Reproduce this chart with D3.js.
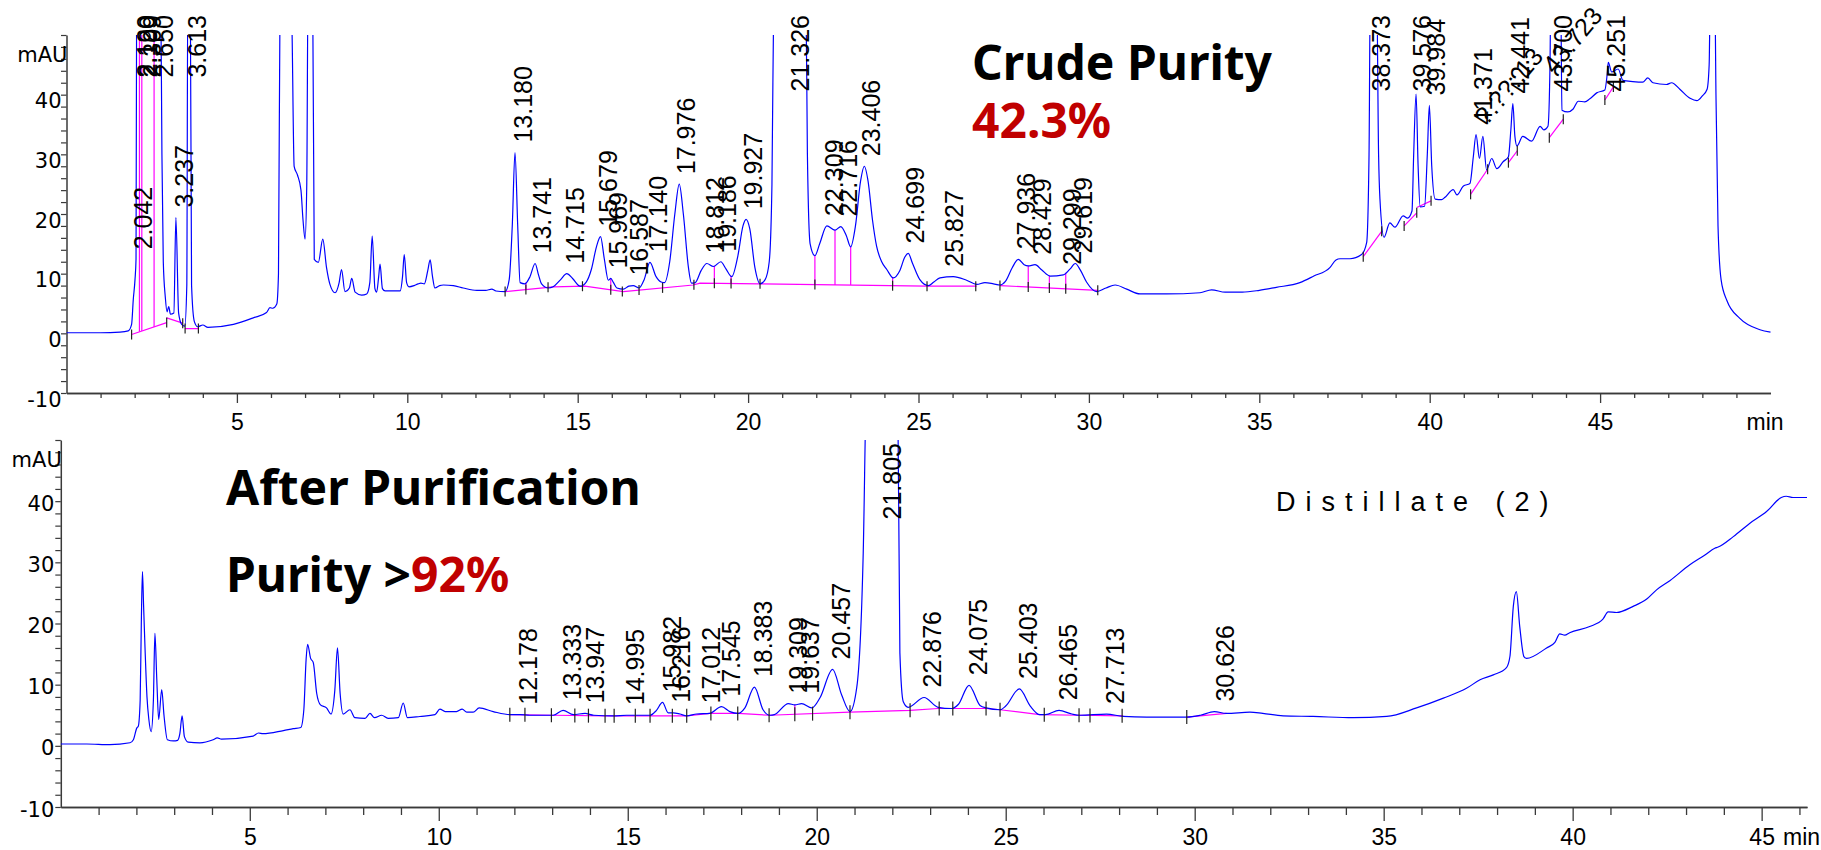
<!DOCTYPE html>
<html><head><meta charset="utf-8">
<script src="https://cdn.jsdelivr.net/npm/d3@7"></script>
<style>body{margin:0;background:#fff}svg{display:block}</style>
</head><body>
<svg id="c" width="1821" height="850"></svg>
<script>
// ---------- DATA ----------
// crude sample trace [min, mAU]
const crudeTrace = [
[0.00,0.1],[1.00,0.1],[1.57,0.2],[1.81,0.4],[1.91,1.5],[1.96,5.7],[2.01,9.0],[2.04,12.4],[2.06,60],[2.40,70],[2.76,60],
[2.80,30],[2.84,12],[2.90,6],[2.95,3.6],[3.00,4.5],[3.05,3.2],[3.15,3.4],[3.21,19.4],[3.29,3.4],[3.38,1.5],[3.47,1.2],
[3.53,8],[3.56,60],[3.63,60],[3.67,8],[3.75,2.0],[3.85,1.1],[4.00,1.4],[4.15,1.0],[4.90,1.5],[5.48,2.6],[5.87,3.5],
[5.97,4.3],[6.05,4.2],[6.17,4.9],[6.22,10],[6.27,60],[6.55,70],[6.62,50],[6.68,28],[6.78,26.5],[6.88,24],[6.94,19],
[7.00,15.8],[7.05,25],[7.09,60],[7.22,60],[7.27,12.4],[7.39,11.9],[7.52,15.8],[7.63,11.0],[7.73,8.2],[7.88,6.8],
[8.00,8.5],[8.07,10.7],[8.17,7.0],[8.30,7.6],[8.37,9.2],[8.47,6.9],[8.66,6.4],[8.81,6.6],[8.90,8.5],[8.97,16.3],
[9.05,7.5],[9.10,6.9],[9.16,9.5],[9.20,11.6],[9.27,7.5],[9.35,7.1],[9.79,7.1],[9.86,9.5],[9.91,13.2],[9.98,8.5],
[10.05,7.8],[10.20,8.0],[10.32,8.3],[10.40,8.4],[10.50,8.3],[10.60,10.5],[10.67,12.3],[10.74,9.5],[10.81,7.6],
[10.95,8.0],[11.06,8.1],[11.35,8.0],[11.64,7.6],[12.04,7.2],[12.30,7.2],[12.48,7.4],[12.60,7.1],[12.87,7.0],
[12.99,9.0],[13.08,18],[13.16,30.3],[13.24,18],[13.31,8.5],[13.45,8.3],[13.60,9.5],[13.75,11.7],[13.85,9.8],
[13.94,8.3],[14.14,7.6],[14.28,7.8],[14.50,9.0],[14.68,10.0],[14.85,9.2],[15.07,7.9],[15.25,8.6],[15.40,10.7],
[15.55,14.5],[15.67,16.2],[15.78,12.5],[15.90,8.9],[15.97,9.2],[16.05,8.5],[16.15,7.6],[16.34,7.4],[16.50,7.9],
[16.63,8.0],[16.80,7.6],[16.95,9.0],[17.12,11.9],[17.30,9.5],[17.45,8.6],[17.55,8.5],[17.70,12.0],[17.85,20],
[17.98,25.0],[18.10,20],[18.25,11],[18.34,8.4],[18.45,8.5],[18.62,10.5],[18.79,11.7],[18.98,11.2],[19.20,12.0],
[19.35,10.8],[19.52,9.5],[19.70,13],[19.85,18.0],[19.94,19.1],[20.05,17.5],[20.20,11.0],[20.35,8.3],[20.50,9.0],
[20.62,12],[20.70,25],[20.76,60],[21.00,75],[21.69,60],[21.74,30],[21.82,15],[21.96,13.0],[22.10,15.0],[22.31,18.0],
[22.55,17.3],[22.72,17.9],[22.88,16.4],[23.01,14.5],[23.15,18],[23.30,25.5],[23.41,28.0],[23.52,25.5],[23.65,19],
[23.77,14.6],[23.92,12.0],[24.07,10.7],[24.26,9.3],[24.45,10.5],[24.60,12.8],[24.70,13.4],[24.82,11.8],[25.04,9.0],
[25.29,8.0],[25.45,8.6],[25.63,9.3],[26.02,9.5],[26.41,8.9],[26.71,8.2],[26.95,8.5],[27.20,8.3],[27.39,8.1],
[27.55,8.7],[27.75,11.0],[27.93,12.4],[28.10,11.5],[28.22,11.3],[28.42,11.5],[28.62,10.6],[28.86,9.6],[29.25,9.8],
[29.45,10.8],[29.60,11.7],[29.75,10.6],[29.93,8.6],[30.23,7.0],[30.50,7.6],[30.77,8.1],[31.11,7.4],[31.50,6.6],
[32.28,6.6],[33.26,6.8],[33.60,7.3],[34.00,6.9],[34.50,6.9],[35.00,7.2],[35.50,7.7],[36.19,8.5],[36.60,9.6],
[37.07,11.0],[37.25,12.3],[37.37,12.5],[37.66,12.5],[38.00,13.2],[38.15,15.2],[38.22,30],[38.26,60],[38.44,60],
[38.50,30],[38.54,22.5],[38.66,16.1],[38.83,18.5],[38.98,17.8],[39.22,19.7],[39.35,19.3],[39.48,20.5],[39.53,30],
[39.60,40.1],[39.66,28],[39.72,21.2],[39.85,21.3],[39.93,30],[39.99,38.2],[40.06,28],[40.16,22.5],[40.35,22.4],
[40.45,22.8],[40.69,24.1],[40.80,23.2],[40.99,24.7],[41.18,25.1],[41.28,29.6],[41.36,33.3],[41.46,29.3],[41.56,33.0],
[41.67,27.4],[41.82,29.3],[41.97,27.6],[42.16,28.8],[42.31,29.6],[42.38,34],[42.44,38.5],[42.50,33],[42.56,31.4],
[42.73,33.0],[42.99,32.2],[43.24,34.7],[43.35,34.1],[43.47,34.7],[43.53,45],[43.56,60],[43.84,60],[43.88,37.4],
[44.05,37.1],[44.21,37.6],[44.36,38.9],[44.55,38.8],[44.70,39.3],[44.90,40.3],[45.14,40.8],[45.20,43],[45.24,45.4],
[45.34,43.8],[45.53,44.3],[45.67,42.4],[45.96,42.2],[46.25,42.1],[46.40,42.8],[46.55,42.0],[46.95,41.7],[47.10,42.0],
[47.34,40.9],[47.64,39.4],[47.84,39.0],[48.00,39.8],[48.14,40.9],[48.20,45],[48.24,60],[48.36,60],[48.40,40],
[48.46,18],[48.55,9],[48.72,5.5],[49.10,2.5],[49.69,0.6],[50.00,0.2]
];
// crude integration baselines (segments of [min, mAU])
const crudeBase = [
[[1.91,-0.2],[2.94,1.8]],
[[2.94,2.6],[3.41,1.7]],
[[3.48,0.8],[3.87,0.8]],
[[12.87,7.0],[14.28,7.8],[15.21,7.9],[16.34,7.0],[18.39,8.1],[18.59,8.4],[20.35,8.3],[25.24,7.9]],
[[25.24,7.9],[26.71,7.9]],
[[27.39,8.0],[30.26,7.2]],
[[38.05,12.85],[38.59,17.1]],
[[39.25,18.0],[39.62,20.2]],
[[39.62,21.1],[40.04,22.2]],
[[41.20,23.3],[41.70,27.5]],
[[42.31,28.6],[42.57,30.6]],
[[43.51,32.8],[43.92,35.9]],
[[45.14,39.1],[45.39,41.3]]
];
const crudeDrops = [2.14,2.21,2.57,13.48,15.97,17.49,19.01,19.50,21.96,22.55,23.01,24.24,28.22,28.84,29.32];
const crudeTicks = [1.91,2.94,3.41,3.48,3.87,12.87,13.48,14.13,15.14,15.97,16.31,16.80,17.49,18.41,19.01,19.50,20.35,
21.96,24.24,25.25,26.68,27.39,28.22,28.84,29.32,30.26,38.05,38.59,39.25,39.62,40.04,41.20,41.70,42.31,42.57,43.51,43.92,45.14,45.39];
// crude peak labels: retention time, apex mAU (null = off scale)
const crudeRT = [2.042,2.120,2.199,2.309,2.650,3.237,3.613,13.180,13.741,14.715,15.679,15.969,16.587,17.140,17.976,18.812,
19.186,19.927,21.326,22.309,22.716,23.406,24.699,25.827,27.936,28.429,29.299,29.619,38.373,39.576,39.984,41.371,42.441,43.700,45.251];
const crudeApex = [12.4,null,null,null,null,19.4,null,30.3,11.7,10.0,16.2,9.2,8.0,11.9,25.0,11.7,
12.0,19.1,null,18.0,17.9,28.0,13.4,9.5,12.4,11.5,9.8,11.7,null,40.1,38.2,33.3,38.5,null,45.4];
const crudeSlant = [["?.??:.13",41.72,33.0],["43.723",43.723,null]];

// purified sample trace
const pureTrace = [
[0.00,0.3],[0.69,0.3],[1.30,0.2],[1.83,0.5],[1.92,1.0],[2.01,2.9],[2.05,3.2],[2.10,7.5],[2.13,20],[2.16,28.5],[2.19,23],
[2.23,15.7],[2.28,8],[2.33,4.3],[2.39,2.3],[2.45,7.5],[2.49,18.4],[2.54,10.8],[2.59,4.3],[2.67,9.2],[2.73,5.0],[2.82,1.0],
[2.98,0.8],[3.09,0.9],[3.15,2.0],[3.21,4.9],[3.27,1.5],[3.37,0.6],[3.68,0.5],[4.03,1.0],[4.14,1.3],[4.25,1.1],[5.09,1.6],
[5.23,2.1],[5.35,2.0],[5.89,2.5],[6.15,2.8],[6.35,3.0],[6.43,5.9],[6.49,14.1],[6.53,16.6],[6.61,14.3],[6.68,13.6],
[6.77,8.6],[6.87,6.7],[7.03,6.2],[7.15,5.2],[7.25,9.1],[7.32,16.0],[7.39,8.6],[7.47,5.2],[7.65,5.9],[7.78,4.6],
[8.05,4.5],[8.18,5.3],[8.30,4.6],[8.49,5.0],[8.66,4.5],[8.93,4.6],[9.06,7.0],[9.17,4.6],[9.50,4.8],[9.90,5.1],
[10.03,6.0],[10.17,5.6],[10.47,5.6],[10.62,6.0],[10.74,5.5],[10.91,5.5],[11.07,6.2],[11.44,5.6],[11.88,5.1],[12.15,5.1],
[12.41,5.0],[13.03,5.0],[13.29,5.8],[13.56,5.1],[13.87,5.3],[14.10,5.0],[14.62,4.9],[14.97,5.0],[15.59,5.0],[15.76,5.8],
[15.92,7.1],[16.07,5.4],[16.20,5.4],[16.38,5.2],[16.56,4.9],[16.82,5.2],[17.17,5.3],[17.48,6.4],[17.70,5.6],[17.92,5.3],
[18.10,6.2],[18.35,9.6],[18.58,5.9],[18.76,5.0],[18.88,5.1],[19.25,6.9],[19.42,6.7],[19.60,6.9],[19.87,6.2],[20.09,7.9],
[20.42,12.5],[20.66,8.3],[20.88,5.6],[21.06,9.6],[21.23,31.5],[21.32,60],[21.80,80],[22.14,60],[22.20,15.2],[22.29,7.2],
[22.42,6.3],[22.84,7.9],[23.21,6.3],[23.57,6.1],[23.75,6.8],[24.03,9.9],[24.32,6.6],[24.48,6.2],[24.85,5.9],[25.00,6.5],
[25.36,9.3],[25.65,6.5],[25.90,5.1],[26.05,5.1],[26.41,5.8],[26.75,5.2],[26.96,5.0],[27.67,5.2],[28.11,4.8],[28.73,4.7],
[29.79,4.7],[30.15,5.0],[30.52,5.6],[30.84,5.3],[31.46,5.5],[31.80,5.3],[32.34,4.9],[33.13,4.8],[34.19,4.6],[35.08,4.8],
[35.87,6.2],[36.58,7.8],[37.19,9.4],[37.55,10.8],[37.90,11.6],[38.25,12.8],[38.34,14.6],[38.43,22.8],[38.51,25.2],
[38.60,19.5],[38.71,14.6],[38.78,14.3],[39.31,16.0],[39.53,16.9],[39.66,18.3],[39.79,18.1],[39.92,18.5],[40.45,19.5],
[40.80,20.7],[40.94,21.9],[41.16,21.8],[41.60,22.8],[41.96,24.0],[42.22,25.5],[42.57,27.0],[43.10,29.6],[43.50,31.2],
[43.76,32.3],[43.85,32.5],[44.25,34.2],[44.69,36.4],[45.13,38.3],[45.52,40.6],[45.65,40.8],[45.83,40.6],[46.20,40.6]
];
const pureBase = [
[[11.88,5.1],[13.03,5.0],[14.40,4.9],[16.56,4.9],[17.17,5.3],[17.92,5.3],[18.76,5.0],[20.88,5.5],[22.47,5.8],[23.21,6.1],
 [24.48,6.1],[24.85,5.9],[25.90,5.1],[26.96,5.0],[28.11,4.9]],
[[29.79,4.7],[30.84,5.3]]
];
const pureDrops = [19.42];
const pureTicks = [11.88,12.28,12.98,13.60,13.96,14.40,14.64,15.20,15.59,16.18,16.56,17.20,17.91,18.74,19.42,19.89,20.88,
22.47,23.24,23.60,24.48,24.85,26.02,26.94,27.23,28.08,29.79,30.86];
const pureRT = [12.178,13.333,13.947,14.995,15.982,16.216,17.012,17.545,18.383,19.309,19.637,20.457,21.805,22.876,24.075,25.403,26.465,27.713,30.626];
const pureApex = [5.1,5.8,5.3,5.0,7.1,5.4,5.3,6.4,9.6,6.9,6.9,12.5,null,7.9,9.9,9.3,5.8,5.2,5.6];

const yTickLabels = [-10,0,10,20,30,40];
const xTickLabels = [5,10,15,20,25,30,35,40,45];

// ---------- DRAWING ----------
const svg = d3.select("#c");
const defs = svg.append("defs");
const AX = "#3a3a3a";
const LBL = "'Liberation Sans', Arial, sans-serif";

function interp(arr, t) {
  const i = d3.bisector(d => d[0]).right(arr, t);
  if (i <= 0) return arr[0][1];
  if (i >= arr.length) return arr[arr.length - 1][1];
  const a = arr[i - 1], b = arr[i];
  return a[1] + (b[1] - a[1]) * (t - a[0]) / (b[0] - a[0]);
}
function baseAt(segs, t) {
  for (const s of segs) if (t >= s[0][0] - 1e-9 && t <= s[s.length - 1][0] + 1e-9) return interp(s, t);
  return null;
}

function panel(o) {
  const x = d3.scaleLinear().domain([0, o.xMax]).range([o.left, o.right]);
  const y = d3.scaleLinear().domain([-10, 50]).range([o.bottom, o.top]);
  const g = svg.append("g");
  const cid = "clip" + o.id;
  defs.append("clipPath").attr("id", cid).append("rect")
    .attr("x", o.left).attr("y", o.top).attr("width", o.right - o.left + 2).attr("height", o.bottom - o.top);

  // x axis: minor + major
  const minor = d3.range(1, Math.floor(o.xMax) + 1).filter(v => v % 5 !== 0 && v < o.xMax);
  const gx1 = g.append("g").attr("transform", `translate(0,${o.bottom})`)
    .call(d3.axisBottom(x).tickValues(minor).tickSize(o.minorX).tickSizeOuter(0).tickFormat(""));
  const gx2 = g.append("g").attr("transform", `translate(0,${o.bottom})`)
    .call(d3.axisBottom(x).tickValues(xTickLabels).tickSize(o.majorX).tickSizeOuter(0).tickFormat(d3.format("d")));
  gx2.selectAll("text").attr("y", o.xLabelY).attr("dy", null)
    .style("font-family", LBL).style("font-size", "23px").attr("fill", "#000");
  [gx1, gx2].forEach(a => { a.select(".domain").attr("stroke", AX).attr("stroke-width", 1.5); a.selectAll("line").attr("stroke", AX).attr("stroke-width", 1.3); });

  // y axis
  const gy = g.append("g").attr("transform", `translate(${o.left},0)`)
    .call(d3.axisLeft(y).tickValues(d3.range(-10, 51, 2)).tickSize(5.5).tickSizeOuter(0).tickFormat(""));
  gy.select(".domain").attr("stroke", AX).attr("stroke-width", 1.5);
  gy.selectAll("line").attr("stroke", AX).attr("stroke-width", 1.2);
  g.selectAll(null).data(yTickLabels).join("text")
    .attr("x", o.left - o.yLabelGap).attr("y", d => y(d) + o.yLabelDy)
    .attr("text-anchor", "end").style("font-family", "'DejaVu Sans', sans-serif").style("font-size", "21px")
    .text(d => d);
  g.append("text").attr("x", o.left + 1).attr("y", o.top + 27).attr("text-anchor", "end")
    .style("font-family", "'DejaVu Sans', sans-serif").style("font-size", "21px").text("mAU");
  g.append("text").attr("x", o.minX).attr("y", o.bottom + o.xLabelY)
    .style("font-family", LBL).style("font-size", "23px").text("min");

  // baselines
  const lineG = g.append("g").attr("clip-path", `url(#${cid})`);
  const ln = d3.line().x(d => x(d[0])).y(d => y(d[1]));
  lineG.selectAll(null).data(o.base).join("path").attr("d", ln)
    .attr("fill", "none").attr("stroke", "#ff00ff").attr("stroke-width", 1.2);
  // drop lines
  lineG.selectAll(null).data(o.drops).join("line")
    .attr("x1", d => x(d)).attr("x2", d => x(d))
    .attr("y1", d => y(baseAt(o.base, d))).attr("y2", d => y(interp(o.trace, d)))
    .attr("stroke", "#ff00ff").attr("stroke-width", 1.2);
  // trace
  lineG.append("path").datum(o.trace)
    .attr("d", d3.line().x(d => x(d[0])).y(d => y(d[1])).curve(d3.curveMonotoneX))
    .attr("fill", "none").attr("stroke", "#0000ff").attr("stroke-width", 1.2);
  // event ticks
  g.selectAll(null).data(o.ticks.filter(t => baseAt(o.base, t) !== null)).join("line")
    .attr("x1", d => x(d)).attr("x2", d => x(d))
    .attr("y1", d => y(baseAt(o.base, d)) - o.tickH).attr("y2", d => y(baseAt(o.base, d)) + o.tickH)
    .attr("stroke", "#222").attr("stroke-width", 1.2);

  // peak labels (vertical)
  o.rt.forEach((rt, i) => {
    const h = o.apex[i];
    const t = g.append("text").style("font-family", LBL).style("font-size", "25px").text(rt.toFixed(3));
    const len = t.node().getComputedTextLength();
    const apexY = h === null ? -1e9 : y(h);
    const by = Math.max(apexY - 10, o.labelTop + len);
    t.attr("transform", `translate(${x(rt) + 16},${by}) rotate(-90)`);
  });
  (o.slant || []).forEach(s => {
    const h = s[2];
    const apexY = h === null ? o.labelTop + 60 : y(h) - 10;
    g.append("text").style("font-family", LBL).style("font-size", "25px").text(s[0])
      .attr("transform", `translate(${x(s[1]) - 2},${apexY}) rotate(-50)`);
  });
  return { x, y };
}

panel({ id: "a", xMax: 50, left: 66.5, right: 1770.5, top: 35, bottom: 393,
  minorX: 5, majorX: 10, xLabelY: 37, yLabelGap: 5, yLabelDy: 13.6, minX: 1746.5, tickH: 5, labelTop: 15,
  trace: crudeTrace, base: crudeBase, drops: crudeDrops, ticks: crudeTicks, rt: crudeRT, apex: crudeApex, slant: crudeSlant });

panel({ id: "b", xMax: 46.2, left: 60.8, right: 1807, top: 440, bottom: 807,
  minorX: 8, majorX: 14, xLabelY: 37.5, yLabelGap: 6.5, yLabelDy: 9.6, minX: 1783, tickH: 7, labelTop: 443,
  trace: pureTrace, base: pureBase, drops: pureDrops, ticks: pureTicks, rt: pureRT, apex: pureApex });

// titles
const TF = "'Noto Sans', 'Open Sans', sans-serif";
svg.append("text").attr("x", 972).attr("y", 80).style("font-family", TF).style("font-weight", 700)
  .style("font-size", "48px").attr("fill", "#000").text("Crude Purity");
svg.append("text").attr("x", 972).attr("y", 138).style("font-family", TF).style("font-weight", 700)
  .style("font-size", "48px").attr("fill", "#c00000").text("42.3%");
svg.append("text").attr("x", 226).attr("y", 505).style("font-family", TF).style("font-weight", 700)
  .style("font-size", "48px").attr("fill", "#000").text("After Purification");
const p = svg.append("text").attr("x", 226).attr("y", 592).style("font-family", TF).style("font-weight", 700)
  .style("font-size", "48px").attr("fill", "#000");
p.append("tspan").text("Purity >");
p.append("tspan").attr("fill", "#c00000").text("92%");
svg.append("text").attr("x", 1276).attr("y", 511).style("font-family", LBL).style("font-size", "27px")
  .style("letter-spacing", "10px").attr("fill", "#000").text("Distillate (2)");
</script>
</body></html>
